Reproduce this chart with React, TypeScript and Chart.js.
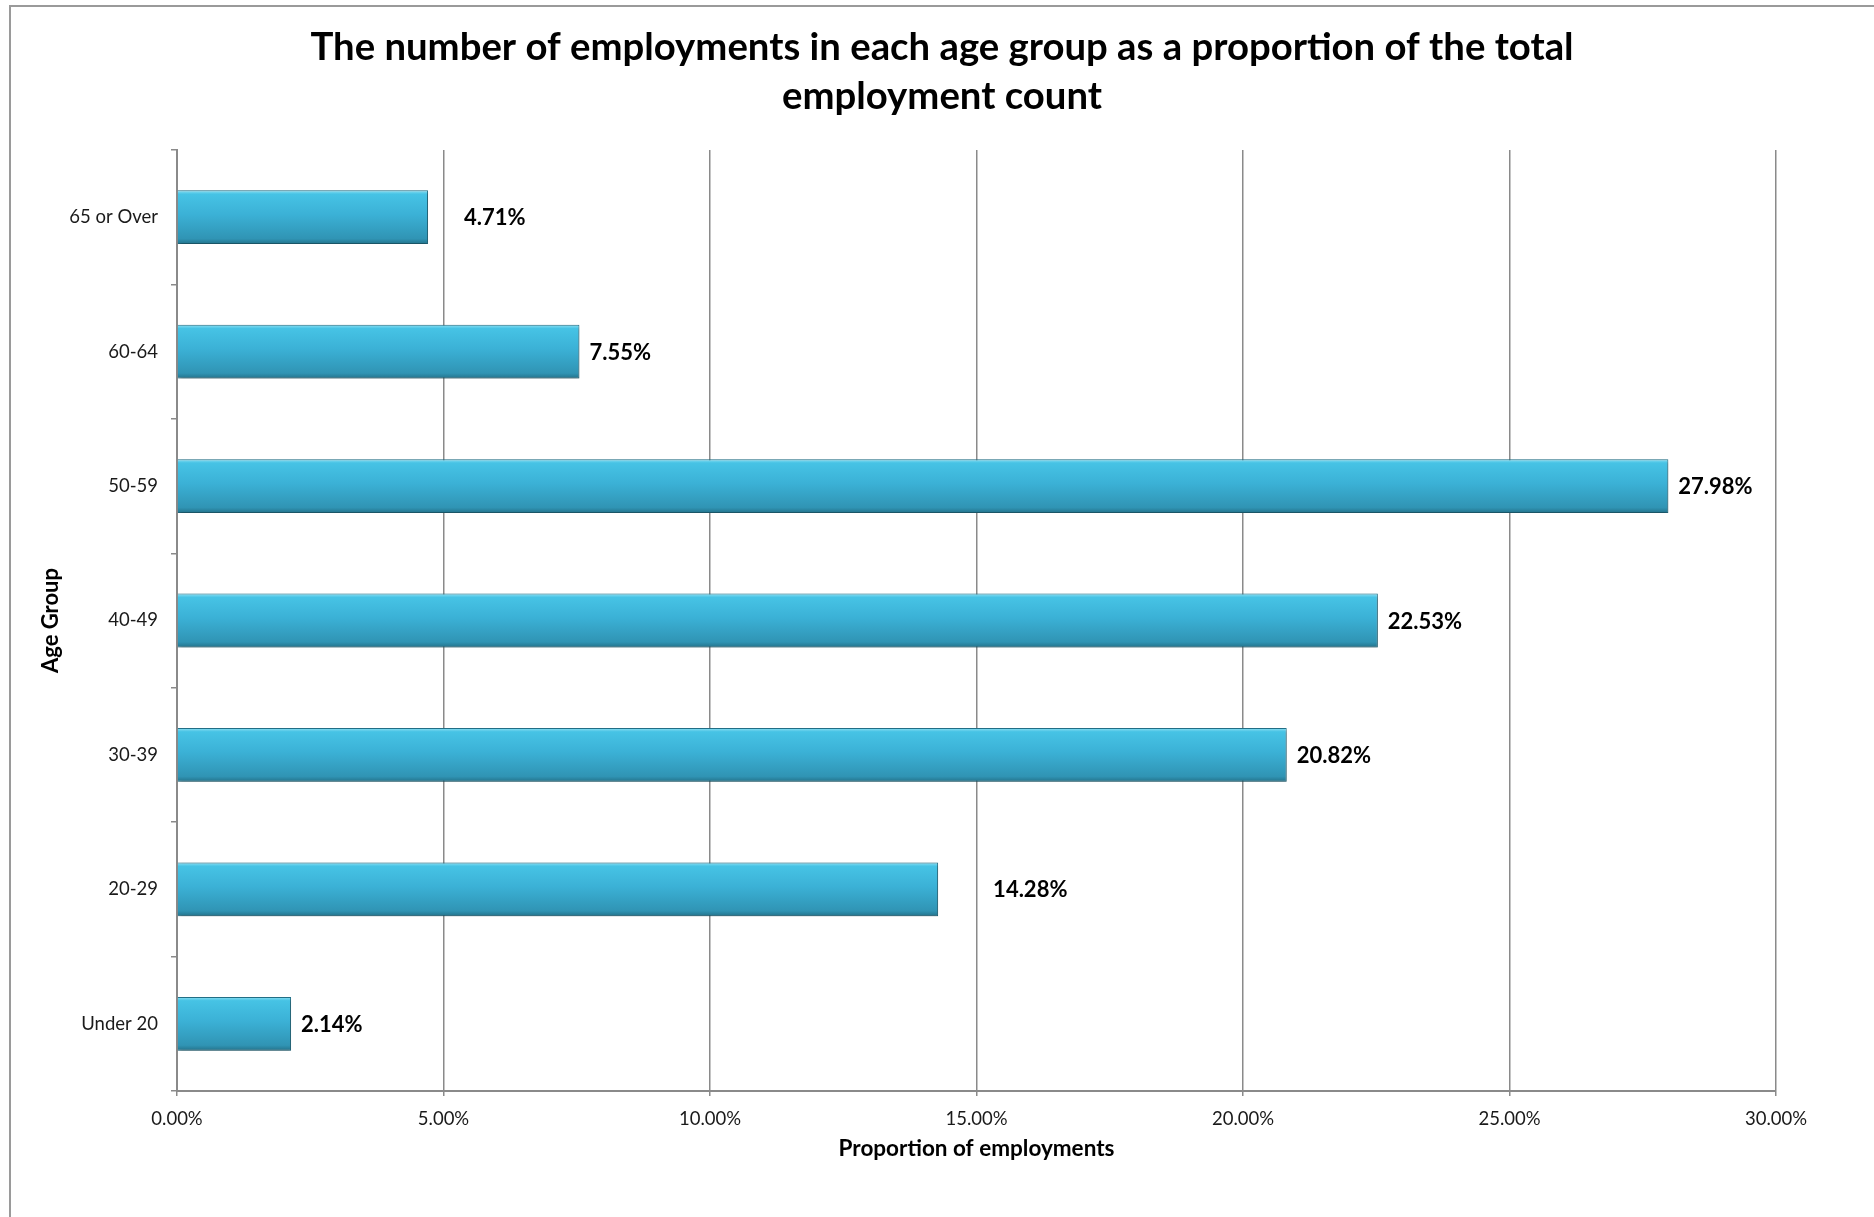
import React, { useEffect, useRef } from "react";
import { Chart, registerables } from "chart.js";

Chart.register(...registerables);

const categories = ["Under 20", "20-29", "30-39", "40-49", "50-59", "60-64", "65 or Over"];
const shares = [2.14, 14.28, 20.82, 22.53, 27.98, 7.55, 4.71];
const shareLabels = ["2.14%", "14.28%", "20.82%", "22.53%", "27.98%", "7.55%", "4.71%"];
const titleLines = [
  "The number of employments in each age group as a proportion of the total",
  "employment count",
];
const xAxisTitle = "Proportion of employments";
const yAxisTitle = "Age Group";

const FONT = "Lato, 'Open Sans', sans-serif";
const BAR_PCT = 0.4;
// extra horizontal nudge for a couple of labels (Excel placed them further out)
const labelNudge = [0, 45, 0, 0, 0, 0, 26];

export default function App() {
  const ref = useRef<HTMLCanvasElement | null>(null);

  useEffect(() => {
    const canvas = ref.current;
    if (!canvas) return;

    const framePlugin = {
      id: "frameAndTitle",
      beforeDraw(chart: any) {
        const ctx = chart.ctx;
        ctx.save();
        ctx.strokeStyle = "#9a9a9a";
        ctx.lineWidth = 2;
        ctx.beginPath();
        ctx.moveTo(10, 1217);
        ctx.lineTo(10, 6);
        ctx.lineTo(1874, 6);
        ctx.stroke();
        ctx.restore();
      },
      afterDraw(chart: any) {
        const ctx = chart.ctx;
        ctx.save();
        ctx.fillStyle = "#000";
        ctx.font = `bold 38.3px ${FONT}`;
        ctx.textAlign = "center";
        ctx.textBaseline = "middle";
        ctx.fillText(titleLines[0], 942, 47.5);
        ctx.fillText(titleLines[1], 942, 97);
        // value labels
        const meta = chart.getDatasetMeta(0);
        ctx.font = `bold 22px ${FONT}`;
        ctx.textAlign = "left";
        ctx.fillStyle = "#000";
        meta.data.forEach((el: any, i: number) => {
          ctx.fillText(shareLabels[i], el.x + 10 + labelNudge[i], el.y + 1);
        });
        ctx.restore();
      },
    };

    const shadowPlugin = {
      id: "barShadow",
      beforeDatasetsDraw(chart: any) {
        const ctx = chart.ctx;
        ctx.save();
        ctx.shadowColor = "rgba(0,0,0,0.35)";
        ctx.shadowBlur = 4;
        ctx.shadowOffsetX = 1;
        ctx.shadowOffsetY = 2;
      },
      afterDatasetsDraw(chart: any) {
        chart.ctx.restore();
      },
    };

    const chart = new Chart(canvas, {
      type: "bar",
      data: {
        labels: categories,
        datasets: [
          {
            data: shares,
            barPercentage: BAR_PCT,
            categoryPercentage: 1,
            borderColor: "#23738b",
            borderWidth: 1,
            borderSkipped: "left",
            backgroundColor: (c: any) => {
              const ch = c.chart;
              const ys = ch.scales && ch.scales.y;
              if (!ys || c.dataIndex === undefined || !ys.height) return "#3ab0d4";
              const center = ys.getPixelForValue(c.dataIndex);
              const half = ((ys.height / categories.length) * BAR_PCT) / 2;
              const g = ch.ctx.createLinearGradient(0, center - half, 0, center + half);
              g.addColorStop(0, "#8fe0f3");
              g.addColorStop(0.07, "#46c3e5");
              g.addColorStop(0.45, "#3bb1d6");
              g.addColorStop(0.9, "#3094b4");
              g.addColorStop(1, "#23728a");
              return g;
            },
          },
        ],
      },
      options: {
        indexAxis: "y",
        responsive: true,
        maintainAspectRatio: false,
        animation: false,
        layout: { padding: { top: 150, right: 98, left: 0, bottom: 0 } },
        plugins: {
          legend: { display: false },
          title: { display: false },
          tooltip: { enabled: false },
        },
        scales: {
          x: {
            type: "linear",
            min: 0,
            max: 30,
            ticks: {
              stepSize: 5,
              padding: 12,
              color: "#1a1a1a",
              font: { family: FONT, size: 18.5 },
              callback: (v: any) => Number(v).toFixed(2) + "%",
            },
            grid: {
              color: "#8a8a8a",
              lineWidth: 1.5,
              tickLength: 5,
              drawTicks: true,
            },
            border: { display: true, color: "#8a8a8a", width: 2 },
            title: {
              display: true,
              text: xAxisTitle,
              color: "#000",
              font: { family: FONT, size: 22.5, weight: "bold" },
              padding: { top: 0, bottom: 55 },
            },
            afterFit: (s: any) => {
              s.height = 1217 - 1091;
            },
          },
          y: {
            type: "category",
            reverse: true,
            offset: true,
            ticks: {
              padding: 13,
              color: "#1a1a1a",
              font: { family: FONT, size: 18.5 },
            },
            grid: {
              offset: true,
              drawOnChartArea: false,
              drawTicks: true,
              tickLength: 6,
              color: "#8a8a8a",
              lineWidth: 1.5,
            },
            border: { display: true, color: "#8a8a8a", width: 2 },
            title: {
              display: true,
              text: yAxisTitle,
              color: "#000",
              font: { family: FONT, size: 22, weight: "bold" },
              padding: { top: 38, bottom: 0 },
            },
            afterFit: (s: any) => {
              s.width = 177;
            },
          },
        },
      },
      plugins: [framePlugin, shadowPlugin],
    } as any);

    return () => chart.destroy();
  }, []);

  return (
    <div style={{ position: "fixed", left: 0, top: 0, width: 1874, height: 1217, background: "#fff" }}>
      <canvas ref={ref} />
    </div>
  );
}
